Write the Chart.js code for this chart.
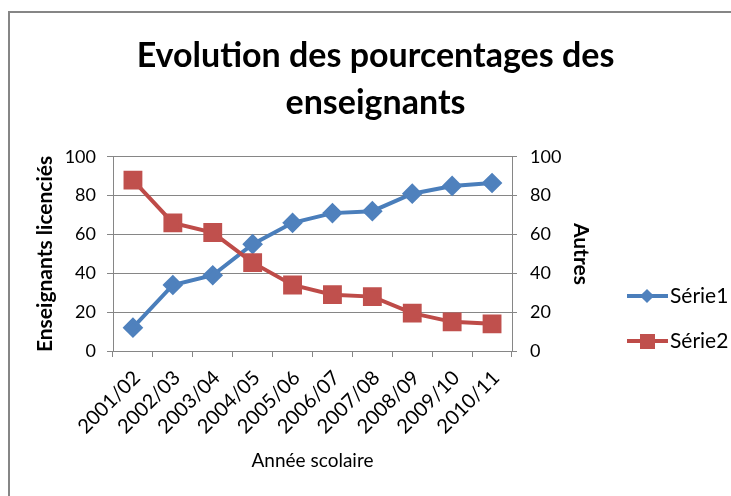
<!DOCTYPE html>
<html lang="fr">
<head>
  <meta charset="UTF-8" />
  <title>Evolution des pourcentages des enseignants</title>
  <script src="https://cdn.jsdelivr.net/npm/chart.js"></script>
  <style>
    body { margin: 0; background: #fff; font-family: Lato, sans-serif; }
    #page { position: relative; width: 731px; height: 496px; overflow: hidden; }
    #cut { position: absolute; left: 0; top: -20px; font-size: 18px; color: #444; }
    #frame { position: absolute; left: 8px; top: 11px; width: 760px; height: 520px; border: 2px solid #868686; }
    #wrap { position: absolute; left: 0; top: 0; width: 731px; height: 496px; }
    #legend { position: absolute; left: 627px; top: 282px; font-size: 21px; }
    .item { position: relative; height: 45px; }
    .line { position: absolute; left: 0; top: 12px; width: 41px; height: 4px; }
    .mark { position: absolute; }
    .label { position: absolute; left: 43px; top: 0px; color: #000; }
  </style>
</head>
<body>
<div id="page">
  <div id="cut">e suivant :</div>
  <div id="frame"></div>
  <div id="wrap"><canvas id="chart"></canvas></div>
  <div id="legend"></div>
</div>

<script>
  const years = ["2001/02", "2002/03", "2003/04", "2004/05", "2005/06",
                 "2006/07", "2007/08", "2008/09", "2009/10", "2010/11"];
  const serie1 = [12, 34, 39, 55, 66, 71, 72, 81, 85, 86.5];
  const serie2 = [88, 66, 61, 45.5, 34, 29, 28, 19.5, 15, 14];
  const seriesNames = ["Série1", "Série2"];

  const blue = "#4A7EBB", blueFill = "#4F81BD";
  const red = "#BE4B48", redFill = "#C0504D";
  const gridGray = "#868686";
  const font = "Lato";

  const chart = new Chart(document.getElementById("chart"), {
    type: "line",
    data: {
      labels: years,
      datasets: [{
        label: seriesNames[0],
        data: serie1,
        yAxisID: "y",
        order: 1,
        borderColor: blue,
        borderWidth: 4,
        backgroundColor: blueFill,
        pointStyle: "rectRot",
        pointRadius: 7.5,
        pointBorderColor: blueFill,
        pointBackgroundColor: blueFill,
        tension: 0
      }, {
        label: seriesNames[1],
        data: serie2,
        yAxisID: "y2",
        order: 0,
        borderColor: red,
        borderWidth: 4,
        backgroundColor: redFill,
        pointStyle: "rect",
        pointRadius: 10.5,
        pointBorderColor: redFill,
        pointBackgroundColor: redFill,
        tension: 0
      }]
    },
    options: {
      responsive: true,
      maintainAspectRatio: false,
      animation: false,
      layout: { padding: { left: 20, right: 0, top: 0, bottom: 24 } },
      plugins: {
        legend: { display: false },
        tooltip: { enabled: false },
        title: {
          display: true,
          text: ["Evolution des pourcentages des", "enseignants"],
          color: "#000",
          font: { family: font, size: 34, weight: "bold", lineHeight: 1.4 },
          padding: { top: 32, bottom: 29.6 }
        }
      },
      scales: {
        x: {
          offset: true,
          grid: { offset: true, drawOnChartArea: false, color: gridGray, tickLength: 6 },
          border: { color: gridGray },
          ticks: { color: "#000", font: { family: font, size: 20 }, minRotation: 45, maxRotation: 45, padding: 9, labelOffset: 4 },
          title: { display: true, text: "Année scolaire", color: "#000", font: { family: font, size: 19 }, padding: { top: 0, bottom: 0 } },
          afterFit: s => { s.height = 121; }
        },
        y: {
          position: "left",
          min: 0, max: 100,
          ticks: { stepSize: 20, color: "#000", font: { family: font, size: 18 }, padding: 11 },
          grid: { color: gridGray, tickLength: 6 },
          border: { color: gridGray },
          title: { display: true, text: "Enseignants licenciés", color: "#000", font: { family: font, size: 21, weight: "bold" }, padding: { top: 13, bottom: 0 } },
          afterFit: s => { s.width = 93; }
        },
        y2: {
          position: "right",
          min: 0, max: 100,
          ticks: { stepSize: 20, color: "#000", font: { family: font, size: 18 }, padding: 13 },
          grid: { drawOnChartArea: false, color: gridGray, tickLength: 5 },
          border: { color: gridGray },
          title: { display: true, text: "Autres", color: "#000", font: { family: font, size: 21, weight: "bold" }, padding: { top: 138, bottom: 0 } },
          afterFit: s => { s.width = 219; }
        }
      }
    }
  });

  // legend built from the series names and styles
  const legend = document.getElementById("legend");
  chart.data.datasets.forEach(ds => {
    const item = document.createElement("div");
    item.className = "item";
    const line = document.createElement("div");
    line.className = "line";
    line.style.background = ds.borderColor;
    const mark = document.createElement("div");
    mark.className = "mark";
    if (ds.pointStyle === "rectRot") {
      Object.assign(mark.style, { left: "15px", top: "9px", width: "10px", height: "10px", background: ds.pointBackgroundColor, transform: "rotate(45deg)" });
    } else {
      Object.assign(mark.style, { left: "13px", top: "7px", width: "15px", height: "15px", background: ds.pointBackgroundColor });
    }
    const label = document.createElement("div");
    label.className = "label";
    label.textContent = ds.label;
    item.append(line, mark, label);
    legend.appendChild(item);
  });
</script>
</body>
</html>
